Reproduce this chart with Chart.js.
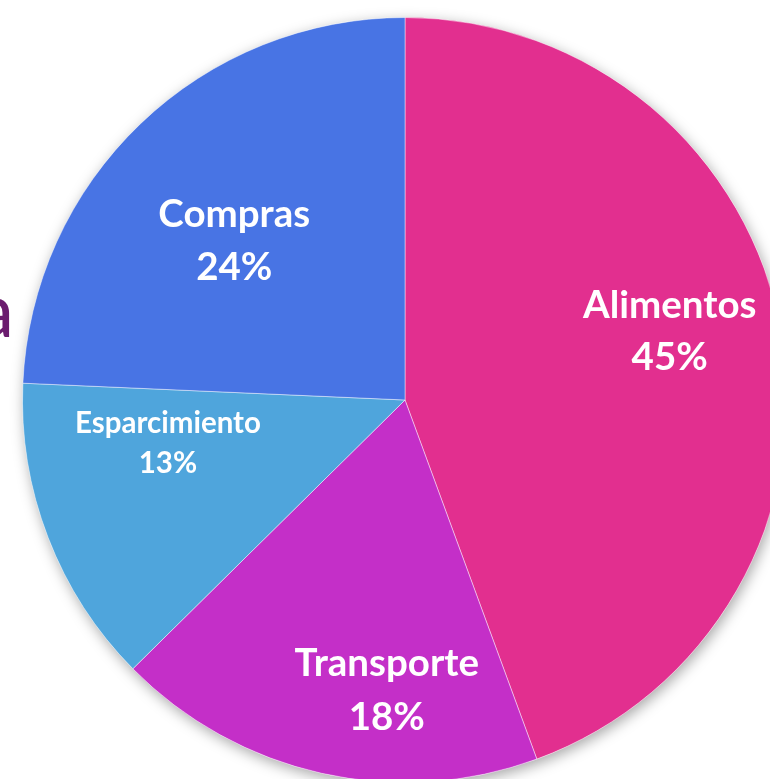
<!DOCTYPE html>
<html>
<head>
<meta charset="utf-8">
<script src="https://cdn.jsdelivr.net/npm/chart.js@4"></script>
<style>
html,body{margin:0;padding:0;background:#fff;overflow:hidden;width:770px;height:779px;}
#wrap{position:absolute;left:0;top:0;width:810px;height:800px;}
#titleBit{position:absolute;right:calc(100% - 14px);top:258px;font-family:Lato,sans-serif;font-size:76px;color:#6B1C6E;line-height:100px;white-space:nowrap;}
</style>
</head>
<body>
<div id="titleBit">a</div>
<div id="wrap"><canvas id="chartGastos" width="810" height="800"></canvas></div>
<script>

// categorias y porcentajes
let categorias = ["Alimentos","Transporte","Esparcimiento","Compras"];
let valores = [44.4, 18.2, 13.1, 24.3];
let etiquetas = ["45%","18%","13%","24%"];
let colores = ["#E22F8F","#C42FC8","#4FA5DC","#4874E4"];

/* sombra bajo la torta */

let sombraPlugin={
id:"sombra",
beforeDatasetsDraw(chart){
let arc=chart.getDatasetMeta(0).data[0];
if(!arc) return;
let ctx=chart.ctx;
ctx.save();
ctx.shadowColor="rgba(0,0,0,0.35)";
ctx.shadowBlur=14;
ctx.shadowOffsetX=2;
ctx.shadowOffsetY=4;
ctx.fillStyle="#fff";
ctx.beginPath();
ctx.arc(arc.x,arc.y,arc.outerRadius,0,Math.PI*2);
ctx.fill();
ctx.restore();
}
};

/* etiquetas dentro de cada porcion */

let etiquetasPlugin={
id:"etiquetas",
afterDatasetsDraw(chart,args,opts){
let ctx=chart.ctx;
let meta=chart.getDatasetMeta(0);
meta.data.forEach((arc,i)=>{
let p=opts.lugares[i];
let mid=(arc.startAngle+arc.endAngle)/2+p.da*Math.PI/180;
let r=arc.outerRadius*p.f;
let x=arc.x+Math.cos(mid)*r;
let y=arc.y+Math.sin(mid)*r;
ctx.save();
ctx.fillStyle="#fff";
ctx.textAlign="center";
ctx.textBaseline="middle";
ctx.font="bold "+p.size+"px Lato, 'Open Sans', sans-serif";
ctx.fillText(categorias[i],x,y-p.gap/2);
ctx.fillText(etiquetas[i],x,y+p.gap/2);
ctx.restore();
});
}
};

new Chart(document.getElementById("chartGastos"),{

type:"pie",

data:{
labels:categorias,
datasets:[{
data:valores,
backgroundColor:colores,
borderColor:"rgba(255,255,255,0.45)",
borderWidth:1
}]
},

options:{
responsive:false,
animation:false,
rotation:0,
layout:{padding:{left:22,top:17,right:22,bottom:17}},
plugins:{
legend:{display:false},
tooltip:{enabled:false},
etiquetas:{
lugares:[
{f:0.715,da:-4.5,size:38.5,gap:52},
{f:0.76,da:-9,size:38.5,gap:54},
{f:0.63,da:10.7,size:29.5,gap:40},
{f:0.61,da:-3.3,size:38.5,gap:53}
]
}
}
},

plugins:[sombraPlugin,etiquetasPlugin]

});

</script>
</body>
</html>
